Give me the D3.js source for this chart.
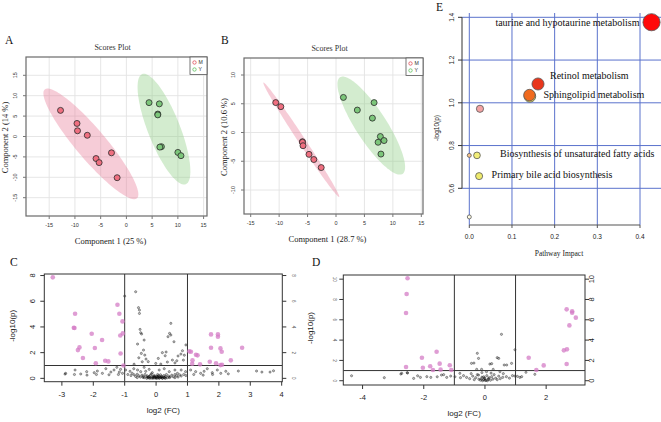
<!DOCTYPE html>
<html><head><meta charset="utf-8">
<script src="https://cdn.jsdelivr.net/npm/d3@7"></script>
<style>body{margin:0;background:#fff}svg{display:block}</style>
</head><body>
<svg id="c" width="661" height="422"></svg>
<script>
// ---------------- DATA ----------------
const groups = ["M", "Y"];
const pcaXTicks = [-15, -10, -5, 0, 5, 10, 15];
const pcaAYTicks = [-15, -10, -5, 0, 5, 10, 15];
const pcaBYTicks = [-10, -5, 0, 5, 10];

const pcaA_M = [[-12.8,6.4],[-9.6,3.2],[-9.5,1.4],[-7.6,0.3],[-2.9,-4.0],[-5.9,-5.4],[-5.3,-6.4],[-1.8,-10.1]];
const pcaA_Y = [[4.4,8.3],[6.4,8.0],[6.1,5.5],[6.1,5.3],[6.8,-2.5],[6.5,-2.6],[10.0,-3.9],[10.6,-4.7]];
const pcaB_M = [[-10.6,5.2],[-9.7,4.5],[-5.9,-1.6],[-5.9,-1.7],[-5.8,-2.3],[-4.75,-3.8],[-3.9,-4.7],[-2.6,-6.1]];
const pcaB_Y = [[1.3,6.1],[3.75,3.9],[6.7,5.2],[6.4,2.5],[7.8,-0.7],[8.45,-1.4],[7.4,-1.7],[7.9,-3.75]];
// confidence ellipses: centre, half major-axis vector, half minor-axis vector (data units)
const ellA_M = {c:[-6.9,-1.8], u:[8.95,-13.35], v:[2.24,2.37]};
const ellA_Y = {c:[7.3,1.8],  u:[4.23,-13.5],  v:[2.9,1.44]};
const ellB_M = {c:[-6.1,-1.27], u:[6.66,-9.95], v:[0.51,0.33]};
const ellB_Y = {c:[6.2,1.2],  u:[5.5,-8.4],   v:[2.27,1.46]};

const volcCXTicks = [-3,-2,-1,0,1,2,3,4];
const volcCYTicks = [0,2,4,6,8];
const volcDXTicks = [-4,-2,0,2];
const volcDYTicks = [0,2,4,6,8,10];
const fcThreshold = [-1, 1];
const pThreshold = 1;

const sigC = [[-3.29,7.86],[-2.58,5.03],[-2.62,3.94],[-2.6,3.92],[-2.05,3.47],[-1.72,2.98],[-2.44,2.41],[-2.49,2.2],[-1.95,2.36],[-2.33,1.58],[-1.92,1.17],[-1.62,1.37],[-1.52,1.32],[-1.23,5.73],[-1.17,5.03],[-1.07,4.43],[-1.06,3.5],[-1.14,3.34],[-1.13,1.94],[-1.04,1.0],
[1.06,2.1],[1.11,2.07],[1.27,1.84],[1.32,1.79],[1.16,1.4],[1.15,1.14],[1.4,1.09],[1.75,3.42],[1.75,2.38],[1.97,3.42],[1.97,3.24],[2.05,2.33],[2.09,2.07],[1.71,1.29],[1.91,1.17],[2.05,1.03],[2.1,1.06],[2.38,1.4],[2.74,2.38]];
const nsC = [[-0.65,6.74],[-1.0,6.4],[-0.56,5.5],[-0.53,5.31],[-0.53,5.05],[-0.51,3.81],[-0.49,3.55],[-0.46,3.45],[-0.59,2.67],[-0.38,2.98],[-0.4,2.2],[-0.36,1.81],[-0.47,1.94],[-0.32,1.5],[-0.44,1.29],
[0.47,4.28],[0.43,3.5],[0.47,3.37],[0.38,3.24],[0.57,2.85],[0.2,2.0],[0.32,2.05],[0.29,1.76],[0.7,1.74],[0.79,1.89],[0.84,2.15],[0.87,1.42],[0.52,1.42],[0.66,1.37],[0.07,1.55],[-0.01,1.16],[0.15,1.11],[0.36,1.27],
[0.95,2.6],[0.9,1.8],[-0.25,1.3],[-0.55,1.6],[0.6,1.2],[-0.7,1.1],
[-2.9,0.33],[-2.88,0.39],[-2.58,0.65],[-2.21,0.52],[-1.87,0.57],[-1.6,0.75],[-1.44,0.49],[-1.34,0.65],[-1.25,0.86],[-1.17,0.49],[-1.71,0.39],[-1.97,0.44],[-2.4,0.34],[-1.13,0.7],[-1.07,0.39],[-0.97,0.65],[-0.83,0.55],[-0.71,0.75],[-0.76,0.39],[-0.59,0.65],[-0.49,0.52],[-0.38,0.86],[-0.33,0.55],[-0.22,0.7],[-0.12,0.44],
[0.1,0.65],[0.26,0.75],[0.42,0.52],[0.6,0.65],[0.68,0.39],[0.8,0.65],[0.94,0.52],[1.1,0.65],[1.26,0.52],[1.42,0.39],[1.53,0.55],[1.63,0.75],[1.79,0.44],[1.95,0.65],[2.06,0.39],[2.22,0.55],[2.62,0.57],[3.2,0.57],[3.37,0.49],[3.63,0.49],[3.74,0.59],
[-2.2,0.25],[-1.9,0.3],[-1.5,0.28],[-1.2,0.3],[1.2,0.3],[1.5,0.25],[1.8,0.3],[2.3,0.35],[-2.6,0.3],
[-0.9,0.3],[-0.8,0.22],[-0.7,0.28],[-0.65,0.15],[-0.6,0.32],[-0.55,0.2],[-0.5,0.1],[-0.45,0.25],[-0.4,0.15],[-0.38,0.05],[-0.35,0.3],[-0.3,0.12],[-0.28,0.2],[-0.25,0.04],[-0.22,0.15],[-0.2,0.08],[-0.18,0.25],[-0.15,0.02],[-0.12,0.12],[-0.1,0.06],[-0.08,0.18],[-0.05,0.03],[-0.03,0.1],[0,0.05],[0.02,0.14],[0.04,0.01],[0.06,0.08],[0.08,0.2],[0.1,0.04],[0.12,0.12],[0.15,0.06],[0.18,0.16],[0.2,0.02],[0.22,0.1],[0.25,0.22],[0.28,0.07],[0.3,0.14],[0.33,0.3],[0.36,0.05],[0.4,0.18],[0.45,0.1],[0.5,0.25],[0.55,0.12],[0.6,0.3],[0.65,0.2],[0.7,0.1],[0.75,0.28],[0.8,0.18],[0.88,0.3],[0.95,0.22],[-0.15,0.35],[0.05,0.3],[-0.05,0.22],[0.14,0.28],
[-0.3,0.0],[-0.2,0.0],[-0.1,0.0],[0.0,0.0],[0.1,0.0],[0.2,0.0],[0.3,0.0],[-0.25,0.09],[-0.05,0.13],[0.05,0.17],[0.16,0.1],[0.26,0.03],[-0.42,0.08],[0.42,0.06],[-0.6,0.06],[0.6,0.05]];

const sigD = [[-2.53,10.09],[-2.56,8.54],[-2.58,6.67],[-2.58,1.35],[-2.06,2.27],[-1.58,2.86],[-2.03,1.28],[-1.79,1.42],[-1.7,1.05],[-1.48,1.68],[-1.45,1.09],[-1.15,1.52],[-1.1,1.05],
[2.67,7.03],[2.85,6.84],[2.85,6.7],[2.97,6.21],[2.76,5.45],[2.58,2.99],[2.68,3.09],[2.67,1.65],[1.43,2.27],[1.92,1.51],[1.68,1.05]];
const nsD = [[0.54,4.57],[-0.25,2.7],[-0.21,2.2],[-0.44,1.71],[-0.36,1.74],[0.16,1.64],[0.22,1.68],[0.4,2.27],[0.45,2.2],[0.63,1.55],[0.71,1.55],[0.87,1.71],[0.98,3.05],[-0.27,1.12],[-0.11,1.12],[0.05,0.89],[0.27,1.12],[0.49,0.89],[-0.21,0.56],[-0.04,0.39],
[-4.36,0.49],[-3.29,0.3],[-2.75,0.66],[-2.53,0.76],[-2.2,0.49],[-2.11,0.33],[-2.33,0.23],[-1.77,0.33],[-1.56,0.39],[-1.42,0.56],[-1.25,0.33],[-1.12,0.46],[-0.98,0.39],[-0.82,0.73],[-2.72,0.73],[-2.54,0.79],[-1.9,0.4],[-1.35,0.6],
[0.98,0.46],[1.14,0.33],[1.34,0.83],[1.63,0.63],[1.06,0.43],[1.2,0.4],
[-0.6,0.33],[0.58,0.33],[-0.5,0.2],[-0.4,0.45],[-0.35,0.1],[-0.3,0.3],[-0.25,0.6],[-0.2,0.15],[-0.15,0.05],[-0.1,0.35],[-0.05,0.1],[0,0.2],[0.03,0.02],[0.06,0.5],[0.1,0.12],[0.14,0.3],[0.18,0.05],[0.22,0.4],[0.26,0.15],[0.3,0.6],[0.35,0.25],[0.4,0.1],[0.45,0.45],[0.5,0.2],[0.7,0.4],[0.8,0.25],[-0.7,0.5],[-0.8,0.3],[0.9,0.5],[-0.45,0.7],[0.2,0.75],[-0.1,0.8],[0.6,0.7],
[-0.08,0.0],[0.0,0.05],[0.08,0.0],[-0.12,0.18],[0.12,0.22],[-0.02,0.28]];

const pathNames = ["taurine and hypotaurine metabolism","Retinol metabolism","","Sphingolipid metabolism","","Biosynthesis of unsaturated fatty acids","","Primary bile acid biosynthesis",""];
const pathImpact = [0.427, 0.161, 0.142, 0.141, 0.025, 0.018, 0.0, 0.023, 0.0];
const pathLogP   = [1.377, 1.088, 1.030, 1.036, 0.972, 0.754, 0.754, 0.657, 0.466];
const pathXTicks = [0.0, 0.1, 0.2, 0.3, 0.4];
const pathYTicks = [0.6, 0.8, 1.0, 1.2, 1.4];

// ---------------- STYLE ----------------
const pathFill = ["#ff0a0a","#e8361c","#f2ec6a","#f06a1e","#f4a3a3","#f2ee78","#f8c48e","#eeea6c","#fffce0"];
const labelLayout = [{a:"end",dx:-12,dy:3.5},{a:"start",dx:12,dy:-4.5},null,{a:"start",dx:14,dy:2.8},null,{a:"start",dx:23,dy:1.8},null,{a:"start",dx:12.5,dy:2},null];
const SERIF = "'Liberation Serif','Times New Roman',serif";
const SANS = "'Liberation Sans',Arial,sans-serif";
const grpFill = {M:"#ef6f80", Y:"#7cc67a"};
const grpEll  = {M:"rgba(232,120,150,0.38)", Y:"rgba(140,205,130,0.38)"};
const grpLeg  = {M:"#e0505a", Y:"#60c060"};

const svg = d3.select("#c");

function txt(g, x, y, s, size, font, anchor, rot, fill){
  const t = g.append("text").attr("font-family", font).attr("font-size", size)
    .attr("fill", fill || "#222").attr("text-anchor", anchor || "middle").text(s);
  if (rot) t.attr("transform", `translate(${x},${y}) rotate(${rot})`);
  else t.attr("x", x).attr("y", y);
  return t;
}

// ---------------- PCA PANELS ----------------
function pcaPanel(o){
  const g = svg.append("g");
  const [L,R,T,B] = o.frame;
  const x = d3.scaleLinear().domain([-15,15]).range(o.xr);
  const y = d3.scaleLinear().domain(o.yd).range(o.yr);
  const cid = "clip" + o.letter;
  g.append("clipPath").attr("id", cid).append("rect").attr("x",L).attr("y",T).attr("width",R-L).attr("height",B-T);
  g.selectAll(null).data(pcaXTicks).join("line").attr("x1",d=>x(d)).attr("x2",d=>x(d)).attr("y1",T).attr("y2",B).attr("stroke","#e3e3e3").attr("stroke-width",0.9);
  g.selectAll(null).data(o.yticks).join("line").attr("y1",d=>y(d)).attr("y2",d=>y(d)).attr("x1",L).attr("x2",R).attr("stroke","#e3e3e3").attr("stroke-width",0.9);
  const pg = g.append("g").attr("clip-path",`url(#${cid})`);
  const line = d3.line().x(d=>x(d[0])).y(d=>y(d[1]));
  o.ell.forEach((e,i)=>{
    const pts = d3.range(0,360,3).map(t=>{const a=t*Math.PI/180;
      return [e.c[0]+Math.cos(a)*e.u[0]+Math.sin(a)*e.v[0], e.c[1]+Math.cos(a)*e.u[1]+Math.sin(a)*e.v[1]];});
    pg.append("path").attr("d", line(pts)+"Z").attr("fill", grpEll[groups[i]]).attr("stroke","none");
  });
  o.pts.forEach((arr,i)=>{
    pg.selectAll(null).data(arr).join("circle").attr("cx",d=>x(d[0])).attr("cy",d=>y(d[1])).attr("r",3)
      .attr("fill",grpFill[groups[i]]).attr("stroke","#2a2a2a").attr("stroke-width",0.8);
  });
  g.append("rect").attr("x",L).attr("y",T).attr("width",R-L).attr("height",B-T).attr("fill","none").attr("stroke","#6a6a6a").attr("stroke-width",1.2);
  g.selectAll(null).data(pcaXTicks).join("line").attr("x1",d=>x(d)).attr("x2",d=>x(d)).attr("y1",B).attr("y2",B+3).attr("stroke","#777");
  g.selectAll(null).data(pcaXTicks).join("text").attr("x",d=>x(d)).attr("y",B+11).attr("text-anchor","middle")
    .attr("font-family",SANS).attr("font-size",5.5).attr("fill","#333").text(d=>d);
  g.selectAll(null).data(o.yticks).join("line").attr("y1",d=>y(d)).attr("y2",d=>y(d)).attr("x1",L-3).attr("x2",L).attr("stroke","#777");
  g.selectAll(null).data(o.yticks).join("text").attr("transform",d=>`translate(${L-9},${y(d)}) rotate(-90)`).attr("text-anchor","middle")
    .attr("font-family",SANS).attr("font-size",5.5).attr("fill","#333").text(d=>d);
  const lx = R-17, ly = T;
  g.append("rect").attr("x",lx).attr("y",ly).attr("width",17).attr("height",17.5).attr("fill","#fff").attr("stroke","#555").attr("stroke-width",0.8);
  groups.forEach((k,i)=>{
    g.append("circle").attr("cx",lx+4.5).attr("cy",ly+5.5+i*7).attr("r",1.7).attr("fill","none").attr("stroke",grpLeg[k]).attr("stroke-width",0.8);
    txt(g, lx+8.5, ly+7.3+i*7, k, 5.2, SANS, "start", null, "#333");
  });
  txt(g, (L+R)/2-4, T-7, "Scores Plot", 8, SERIF, "middle", null, "#333");
  txt(g, (L+R)/2-6, B+28, o.xlab, 8.5, SERIF, "middle", null, "#222");
  txt(g, o.ylabX, (T+B)/2+1, o.ylab, 8.5, SERIF, "middle", -90, "#222");
  txt(g, o.lx, o.ly, o.letter, 11.5, SERIF, "start", null, "#111");
}

pcaPanel({letter:"A", frame:[26,207,57,216], xr:[49.2,203.6], yd:[-15,15], yr:[197.7,75.3], yticks:pcaAYTicks,
  ell:[ellA_M, ellA_Y], pts:[pcaA_M, pcaA_Y], xlab:"Component 1 (25 %)", ylab:"Component 2 (14 %)", ylabX:8, lx:5, ly:44});
pcaPanel({letter:"B", frame:[244,423,58,214], xr:[250.7,421.3], yd:[-10,10], yr:[190,75], yticks:pcaBYTicks,
  ell:[ellB_M, ellB_Y], pts:[pcaB_M, pcaB_Y], xlab:"Component 1 (28.7 %)", ylab:"Component 2 (10.6 %)", ylabX:227, lx:221, ly:44});

// ---------------- VOLCANO PANELS ----------------
function volcano(o){
  const g = svg.append("g");
  const [L,R,T,B] = o.frame;
  const x = d3.scaleLinear().domain(o.xd).range([L,R]);
  const y = d3.scaleLinear().domain(o.yd).range([B,T]);
  const cid = "clip" + o.letter;
  g.append("clipPath").attr("id", cid).append("rect").attr("x",L).attr("y",T).attr("width",R-L).attr("height",B-T);
  const pg = g.append("g").attr("clip-path",`url(#${cid})`);
  pg.selectAll(null).data(o.ns).join("circle").attr("cx",d=>x(d[0])).attr("cy",d=>y(d[1])).attr("r",1.1)
    .attr("fill","#000").attr("fill-opacity",0.25).attr("stroke","#000").attr("stroke-opacity",0.5).attr("stroke-width",0.7);
  pg.selectAll(null).data(fcThreshold).join("line").attr("x1",d=>x(d)).attr("x2",d=>x(d)).attr("y1",T).attr("y2",B).attr("stroke","#333").attr("stroke-width",1);
  pg.append("line").attr("x1",L).attr("x2",R).attr("y1",y(pThreshold)).attr("y2",y(pThreshold)).attr("stroke","#333").attr("stroke-width",1);
  pg.selectAll(null).data(o.sig).join("circle").attr("cx",d=>x(d[0])).attr("cy",d=>y(d[1])).attr("r",2.3)
    .attr("fill","#d47cc6").attr("fill-opacity",0.75).attr("stroke","none");
  g.append("rect").attr("x",L).attr("y",T).attr("width",R-L).attr("height",B-T).attr("fill","none").attr("stroke","#333").attr("stroke-width",1);
  g.selectAll(null).data(o.xt).join("line").attr("x1",d=>x(d)).attr("x2",d=>x(d)).attr("y1",B).attr("y2",B+4).attr("stroke","#333");
  g.selectAll(null).data(o.xt).join("text").attr("x",d=>x(d)).attr("y",B+15).attr("text-anchor","middle")
    .attr("font-family",SANS).attr("font-size",7.5).attr("fill","#222").text(d=>d);
  [[L,-1,o.leftBig],[R,1,!o.leftBig]].forEach(([X,s,big])=>{
    g.selectAll(null).data(o.yt).join("line").attr("y1",d=>y(d)).attr("y2",d=>y(d)).attr("x1",X).attr("x2",X+4*s).attr("stroke","#333");
    g.selectAll(null).data(o.yt).join("text").attr("transform",d=>`translate(${X+s*(big?9:10)},${y(d)}) rotate(${big?-90:90})`)
      .attr("text-anchor","middle")
      .attr("font-family",SANS).attr("font-size",big?7.5:4.5).attr("fill",big?"#222":"#555").text(d=>d);
  });
  txt(g, (L+R)/2+o.xlabDx, B+31, "log2 (FC)", 8, SANS, "middle", null, "#222");
  txt(g, o.ylabX, (T+B)/2-2, "-log10(p)", 8, SANS, "middle", -90, "#222");
  txt(g, o.lx, o.ly, o.letter, 11.5, SERIF, "start", null, "#111");
}

volcano({letter:"C", frame:[44.3,282.3,274,381.7], xd:[-3.56,4.02], yd:[-0.26,8.12], xt:volcCXTicks, yt:volcCYTicks,
  sig:sigC, ns:nsC, leftBig:true, xlabDx:0, ylabX:15, lx:10, ly:266});
volcano({letter:"D", frame:[343.3,585,275,385], xd:[-4.63,3.27], yd:[-0.42,10.41], xt:volcDXTicks, yt:volcDYTicks,
  sig:sigD, ns:nsD, leftBig:false, xlabDx:0, ylabX:313, lx:312, ly:266});

// ---------------- PATHWAY PANEL (E) ----------------
(function(){
  const g = svg.append("g");
  const x = d3.scaleLinear().domain([0,0.4]).range([469.3,640]);
  const y = d3.scaleLinear().domain([0.6,1.4]).range([188.3,17.3]);
  const yAxisX = 462, xAxisY = 225;
  const grid = "#5a72cc";
  g.selectAll(null).data(pathXTicks).join("line").attr("x1",d=>x(d)).attr("x2",d=>x(d)).attr("y1",13).attr("y2",xAxisY).attr("stroke",grid).attr("stroke-width",1);
  g.selectAll(null).data(pathYTicks).join("line").attr("y1",d=>y(d)).attr("y2",d=>y(d)).attr("x1",yAxisX).attr("x2",661).attr("stroke",grid).attr("stroke-width",1);
  g.append("line").attr("x1",yAxisX).attr("x2",yAxisX).attr("y1",y(1.4)).attr("y2",y(0.6)).attr("stroke","#333");
  g.selectAll(null).data(pathYTicks).join("line").attr("y1",d=>y(d)).attr("y2",d=>y(d)).attr("x1",yAxisX-4).attr("x2",yAxisX).attr("stroke","#333");
  g.selectAll(null).data(pathYTicks).join("text").attr("transform",d=>`translate(${yAxisX-8},${y(d)}) rotate(-90)`).attr("text-anchor","middle")
    .attr("font-family",SANS).attr("font-size",6.5).attr("fill","#222").text(d=>d.toFixed(1));
  g.append("line").attr("x1",x(0)).attr("x2",x(0.4)).attr("y1",xAxisY).attr("y2",xAxisY).attr("stroke","#555").attr("stroke-width",1.2);
  g.selectAll(null).data(pathXTicks).join("line").attr("x1",d=>x(d)).attr("x2",d=>x(d)).attr("y1",xAxisY).attr("y2",xAxisY+3).attr("stroke","#555");
  g.selectAll(null).data(pathXTicks).join("text").attr("x",d=>x(d)).attr("y",xAxisY+14).attr("text-anchor","middle")
    .attr("font-family",SANS).attr("font-size",6.5).attr("fill","#222").text(d=>d.toFixed(1));
  const r = d3.scaleSqrt().domain([0,0.43]).range([2,8.6]);
  const idx = d3.range(pathImpact.length);
  g.selectAll(null).data(idx).join("circle").attr("cx",i=>x(pathImpact[i])).attr("cy",i=>y(pathLogP[i])).attr("r",i=>r(pathImpact[i]))
    .attr("fill",i=>pathFill[i]).attr("stroke","#555").attr("stroke-width",0.8);
  idx.filter(i=>pathNames[i] && labelLayout[i]).forEach(i=>{
    const l = labelLayout[i];
    txt(g, x(pathImpact[i])+l.dx, y(pathLogP[i])+l.dy, pathNames[i], 10, SERIF, l.a, null, "#111");
  });
  txt(g, 559, 256, "Pathway Impact", 7.5, SERIF, "middle", null, "#222");
  txt(g, 439, 128, "-log10(p)", 6.5, SANS, "middle", -90, "#222");
  txt(g, 436, 11, "E", 11.5, SERIF, "start", null, "#111");
})();
</script>
</body></html>
